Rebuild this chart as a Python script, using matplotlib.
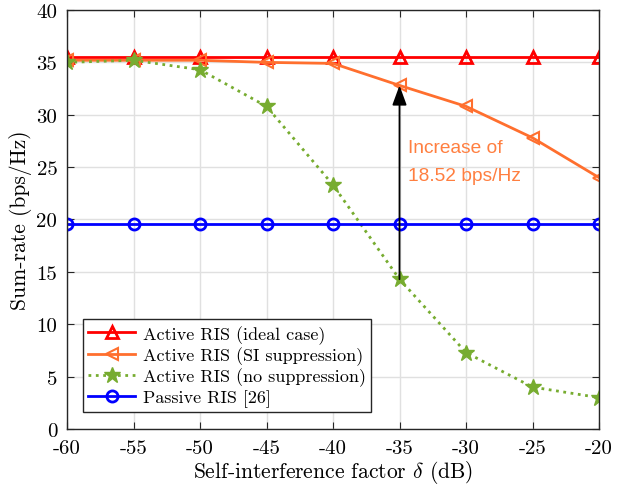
import matplotlib
matplotlib.use("Agg")
import matplotlib.pyplot as plt

plt.rcParams['font.family'] = ['cmr10']
plt.rcParams['mathtext.fontset'] = 'cm'
plt.rcParams['axes.unicode_minus'] = False
plt.rcParams['axes.formatter.use_mathtext'] = False

x = [-60, -55, -50, -45, -40, -35, -30, -25, -20]
ideal = [35.5, 35.5, 35.5, 35.5, 35.5, 35.5, 35.5, 35.5, 35.5]
si_supp = [35.2, 35.2, 35.2, 35.0, 34.9, 32.8, 30.8, 27.8, 24.0]
no_supp = [35.0, 35.2, 34.3, 30.8, 23.3, 14.3, 7.3, 4.0, 3.0]
passive = [19.6] * 9
labels = ['Active RIS (ideal case)', 'Active RIS (SI suppression)',
          'Active RIS (no suppression)', 'Passive RIS [26]']
yticks = [0, 5, 10, 15, 20, 25, 30, 35, 40]

fig = plt.figure(figsize=(6.22, 4.85), dpi=100)
ax = fig.add_axes([67/622, 1-430/485, 532/622, 419/485])

red = '#FF0000'
orange = '#FF6F2E'
green = '#77AC30'
blue = '#0000FF'

ax.plot(x, ideal, color=red, lw=2, marker='^', ms=9, mfc='none', mew=2, label=labels[0])
ax.plot(x, si_supp, color=orange, lw=2, marker='<', ms=9, mfc='none', mew=1.5, label=labels[1])
ax.plot(x, no_supp, color=green, lw=2, ls=':', marker='*', ms=12, mfc=green, mec=green, label=labels[2])
ax.plot(x, passive, color=blue, lw=2, marker='o', ms=8, mfc='none', mew=2, label=labels[3])

ax.annotate('', xy=(-35, si_supp[5]), xytext=(-35, no_supp[5]),
            arrowprops=dict(arrowstyle='-|>,head_length=0.6,head_width=0.22', color='black',
                            lw=1.3, mutation_scale=20, shrinkA=0, shrinkB=0))
ax.text(-34.35, 25.55, 'Increase of\n18.52 bps/Hz', color='#FF7F40', fontsize=13.8,
        family='Liberation Sans', ha='left', va='center', linespacing=1.85)

ax.set_xlim(-60, -20)
ax.set_ylim(0, 40)
ax.set_xticks(x)
ax.set_xticklabels([str(v) for v in x])
ax.set_yticks(yticks)
ax.set_yticklabels([str(v) for v in yticks])
ax.grid(True, color='#E0E0E0', lw=1)
ax.set_axisbelow(True)
ax.tick_params(direction='in', top=True, right=True, labelsize=15, length=5, color='#262626')
ax.tick_params(axis='x', pad=7)
ax.tick_params(axis='y', pad=7)
for s in ax.spines.values():
    s.set_color('#262626')
    s.set_linewidth(1)

ax.set_xlabel(r'Self-interference factor $\delta$ (dB)', fontsize=15.5, labelpad=1)
ax.set_ylabel('Sum-rate (bps/Hz)', fontsize=15.5, labelpad=3)

leg = ax.legend(loc='lower left', bbox_to_anchor=(0.03, 0.04), fontsize=13, frameon=True,
                fancybox=False, edgecolor='#262626', framealpha=1, borderpad=0.3,
                labelspacing=0.15, handlelength=2.6, handletextpad=0.4, borderaxespad=0)
leg.get_frame().set_linewidth(1)

fig.savefig('out.png', dpi=100)
